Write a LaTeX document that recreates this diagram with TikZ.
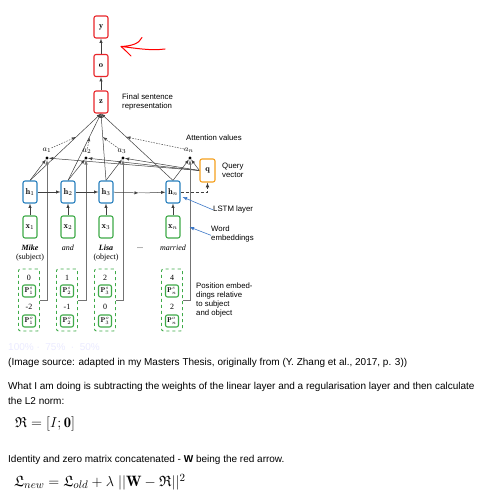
\documentclass[tikz,border=0pt]{standalone}
\usepackage{amssymb}
\usepackage{fontspec}
\setsansfont{Liberation Sans}
\newfontfamily\wordfont{Liberation Serif}
\usepackage{tikz}
\pgfdeclarelayer{edgelayer}
\pgfdeclarelayer{nodelayer}
\pgfsetlayers{edgelayer,nodelayer,main}
\definecolor{outred}{RGB}{232,38,42}
\definecolor{lstmblue}{RGB}{40,128,190}
\definecolor{wordgreen}{RGB}{62,170,72}
\definecolor{queryorange}{RGB}{245,160,30}
\definecolor{notearrow}{RGB}{60,120,200}
\tikzstyle{outbox}=[rectangle, rounded corners=2pt, draw=outred, line width=1.1pt, fill=white, minimum width=14pt, minimum height=22pt, inner sep=0pt, font=\fontsize{8.5}{9}\selectfont]
\tikzstyle{lstmbox}=[outbox, draw=lstmblue]
\tikzstyle{wordbox}=[outbox, draw=wordgreen]
\tikzstyle{querybox}=[outbox, draw=queryorange, minimum width=15pt, minimum height=23pt]
\tikzstyle{posbox}=[outbox, draw=wordgreen, minimum width=13pt, minimum height=12pt, font=\fontsize{7}{7}\selectfont]
\tikzstyle{posgroup}=[rectangle, rounded corners=2pt, draw=wordgreen, dashed, line width=0.9pt, minimum width=21pt, minimum height=62pt]
\tikzstyle{attdot}=[circle, fill=black, inner sep=0pt, minimum size=3.4pt]
\tikzstyle{word}=[inner sep=0pt, font=\wordfont\fontsize{8}{9}\selectfont]
\tikzstyle{notetext}=[inner sep=0pt, anchor=north west, align=left, font=\sffamily\fontsize{7.8}{9}\selectfont]
\tikzstyle{bodytext}=[inner sep=0pt, anchor=west, font=\sffamily\fontsize{10}{12}\selectfont]
\tikzstyle{edge}=[draw=black!75, line width=0.5pt]
\tikzstyle{arrowedge}=[edge, -latex]
\tikzstyle{posedge}=[draw=black!55, line width=0.6pt, -latex]
\tikzstyle{weightedge}=[draw=black!70, line width=0.5pt, dash pattern=on 1.5pt off 1.2pt, -latex]
\tikzstyle{pointer}=[draw=notearrow, line width=0.6pt, -latex]

\begin{document}
\begin{tikzpicture}[x=1pt, y=-1pt]
	\useasboundingbox (0, 0) rectangle (479, 500);
	\begin{pgfonlayer}{nodelayer}
		\node [style=outbox] (y) at (101, 27) {$\mathbf{y}$};
		\node [style=outbox] (o) at (101, 65.5) {$\mathbf{o}$};
		\node [style=outbox] (z) at (101, 102) {$\mathbf{z}$};
		\node [style=lstmbox] (h1) at (30, 192) {$\mathbf{h}_1$};
		\node [style=lstmbox] (h2) at (68, 192) {$\mathbf{h}_2$};
		\node [style=lstmbox] (h3) at (106, 192) {$\mathbf{h}_3$};
		\node [word] (hdots) at (142, 193) {...};
		\node [style=lstmbox] (hn) at (173, 192) {$\mathbf{h}_n$};
		\node [style=querybox] (q) at (207.5, 170.5) {$\mathbf{q}$};
		\node [style=wordbox] (x1) at (30, 227) {$\mathbf{x}_1$};
		\node [style=wordbox] (x2) at (68, 227) {$\mathbf{x}_2$};
		\node [style=wordbox] (x3) at (106, 227) {$\mathbf{x}_3$};
		\node [style=wordbox] (xn) at (173, 227) {$\mathbf{x}_n$};
		\node [style=attdot] (a1) at (47, 158) {};
		\node [style=attdot] (a2) at (86, 158) {};
		\node [style=attdot] (a3) at (123, 158) {};
		\node [style=attdot] (an) at (190, 158) {};
		\node [word] (a1txt) at (47, 150) {$a_1$};
		\node [word] (a2txt) at (87, 151) {$a_2$};
		\node [word] (a3txt) at (122, 151) {$a_3$};
		\node [word] (antxt) at (189, 150) {$a_n$};
		\node [word] (w1) at (30, 248) {\textbf{\textit{Mike}}};
		\node [word] (r1) at (30, 257.5) {(subject)};
		\node [word] (w2) at (68, 248) {\textit{and}};
		\node [word] (w3) at (106, 248) {\textbf{\textit{Lisa}}};
		\node [word] (r3) at (106, 257.5) {(object)};
		\node [word] (wdots) at (140, 248) {...};
		\node [word] (wn) at (173, 248) {\textit{married}};
		\node [style=posgroup] (g1) at (29, 300) {};
		\node [style=posgroup] (g2) at (67, 300) {};
		\node [style=posgroup] (g3) at (105, 300) {};
		\node [style=posgroup] (gn) at (172, 300) {};
		\node [word] (s1) at (29, 277.5) {0};
		\node [word] (s2) at (67, 277.5) {1};
		\node [word] (s3) at (105, 277.5) {2};
		\node [word] (sn) at (172, 277.5) {4};
		\node [style=posbox] (ps1) at (29, 291) {$\mathbf{P}^s_1$};
		\node [style=posbox] (ps2) at (67, 291) {$\mathbf{P}^s_2$};
		\node [style=posbox] (ps3) at (105, 291) {$\mathbf{P}^s_3$};
		\node [style=posbox] (psn) at (172, 291) {$\mathbf{P}^s_n$};
		\node [word] (o1) at (29, 306.5) {-2};
		\node [word] (o2) at (67, 306.5) {-1};
		\node [word] (o3) at (105, 306.5) {0};
		\node [word] (on) at (172, 306.5) {2};
		\node [style=posbox] (po1) at (29, 321) {$\mathbf{P}^o_1$};
		\node [style=posbox] (po2) at (67, 321) {$\mathbf{P}^o_2$};
		\node [style=posbox] (po3) at (105, 321) {$\mathbf{P}^o_3$};
		\node [style=posbox] (pon) at (172, 321) {$\mathbf{P}^o_n$};
		\node [style=notetext] (zinfo) at (122, 94) {Final sentence\\representation};
		\node [style=notetext] (ainfo) at (186, 135) {Attention values};
		\node [style=notetext] (qinfo) at (222, 163) {Query\\vector};
		\node [style=notetext] (hinfo) at (213, 206) {LSTM layer};
		\node [style=notetext] (xinfo) at (211, 226) {Word\\embeddings};
		\node [style=notetext] (pinfo) at (196, 283) {Position embed-\\dings relative\\to subject\\and object};
		\node [bodytext, text=blue!8] (zoomtxt) at (8, 347) {100\% \textperiodcentered\ \ 75\% \ \textperiodcentered\ \ 50\%};
		\node [bodytext] (source) at (8, 363) {(Image source: adapted in my Masters Thesis, originally from (Y. Zhang et al., 2017, p. 3))};
		\node [bodytext] (para1) at (8, 387) {What I am doing is subtracting the weights of the linear layer and a regularisation layer and then calculate};
		\node [bodytext] (para2) at (8, 401) {the L2 norm:};
		\node [inner sep=0pt, anchor=west, font=\fontsize{14.5}{16}\selectfont] (eq1) at (15, 424) {$\mathfrak{R} = [I;\mathbf{0}]$};
		\node [bodytext] (para3) at (8, 460) {Identity and zero matrix concatenated - \textbf{W} being the red arrow.};
		\node [inner sep=0pt, anchor=west, font=\fontsize{15}{17}\selectfont] (eq2) at (14, 482) {$\mathfrak{L}_{new} = \mathfrak{L}_{old} + \lambda \; ||\mathbf{W} - \mathfrak{R}||^2$};
	\end{pgfonlayer}
	\begin{pgfonlayer}{edgelayer}
		\fill [white] (0, 0) rectangle (479, 500);
		\draw [style=arrowedge] (o) to (y);
		\draw [style=arrowedge] (z) to (o);
		\draw [style=arrowedge] (h1.north) to coordinate[pos=0.65] (m1) (z.south);
		\draw [style=arrowedge] (h2.north) to coordinate[pos=0.65] (m2) (z.south);
		\draw [style=arrowedge] (h3.north) to coordinate[pos=0.65] (m3) (z.south);
		\draw [style=arrowedge] (hn.north) to coordinate[pos=0.65] (mn) (z.south);
		\draw [style=weightedge] (a1txt) to (m1);
		\draw [style=weightedge] (a2txt) to (m2);
		\draw [style=weightedge] (a3txt) to (m3);
		\draw [style=weightedge] (antxt) to (mn);
		\draw [style=arrowedge] (h1.north) to (a1);
		\draw [style=arrowedge] (h2.north) to (a2);
		\draw [style=arrowedge] (h3.north) to (a3);
		\draw [style=arrowedge] (hn.north) to (an);
		\draw [style=arrowedge] (q.west) to (a1);
		\draw [style=arrowedge] (q.west) to (a2);
		\draw [style=arrowedge] (q.west) to (a3);
		\draw [style=arrowedge] (q.west) to (an);
		\draw [style=posedge] (g1.east) -| (a1);
		\draw [style=posedge] (g2.east) -| (a2);
		\draw [style=posedge] (g3.east) -| (a3);
		\draw [style=posedge] (gn.east) -| (an);
		\draw [style=arrowedge] (x1) to (h1);
		\draw [style=arrowedge] (x2) to (h2);
		\draw [style=arrowedge] (x3) to (h3);
		\draw [style=arrowedge] (xn) to (hn);
		\draw [style=arrowedge] (h1) to (h2);
		\draw [style=arrowedge] (h2) to (h3);
		\draw [style=arrowedge] (h3) to (hdots);
		\draw [style=arrowedge] (hdots) to (hn);
		\draw [style=arrowedge, line width=0.7pt, dash pattern=on 3pt off 2pt] (hn.east) -| (q.south);
		\draw [style=pointer] (hinfo.west) to ([shift={(2, 5)}]hn.east);
		\draw [style=pointer] ([yshift=-1pt]xinfo.west) to ([xshift=9pt]xn.east);
		\draw [draw=red, line width=1pt, line cap=round] (165, 49) .. controls (150, 51) and (135, 48) .. (121, 46.5) .. controls (131, 46) and (139, 44) .. (142, 37.5);
		\draw [draw=red, line width=1pt, line cap=round] (121, 46.5) .. controls (125, 50) .. (131, 56);
	\end{pgfonlayer}
\end{tikzpicture}
\end{document}
